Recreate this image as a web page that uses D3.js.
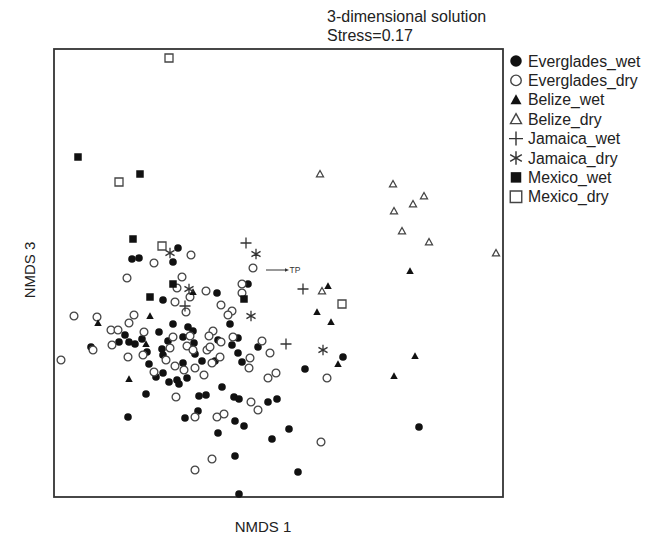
<!DOCTYPE html>
<html>
<head>
<meta charset="utf-8">
<script src="https://cdn.jsdelivr.net/npm/d3@7"></script>
<style>
  body { margin: 0; background: #fff; }
  svg { display: block; font-family: "Liberation Sans", Arial, sans-serif; }
</style>
</head>
<body>
<div id="chart"></div>
<script>
// NMDS scores (NMDS 1, NMDS 3)
var evergladesWet = [
  [-1.00, 0.25], [-1.46, 0.14], [-1.39, 0.15], [-1.05, 0.11], [-1.15, -0.27], [-0.30, -0.11],
  [-0.61, -0.20], [-1.05, -0.51], [-0.90, -0.54], [-0.85, -0.58], [-1.19, -0.59], [-1.53, -0.62],
  [-1.36, -0.66], [-1.59, -0.69], [-1.49, -0.69], [-1.43, -0.71], [-1.10, -0.68], [-0.95, -0.64],
  [-1.16, -0.76], [-1.87, -0.74], [-1.31, -0.79], [-1.15, -0.82], [-0.84, -0.70], [-0.83, -0.81],
  [-1.29, -0.91], [-1.22, -1.04], [-1.15, -1.00], [-0.95, -0.90], [-0.91, -1.05], [-1.09, -1.09],
  [-1.01, -1.07], [-0.99, -1.11], [-0.48, -0.51], [-0.40, -0.65], [-0.60, -0.67], [-0.46, -0.72],
  [-0.20, -0.74], [-0.40, -0.80], [-0.76, -0.88], [-0.63, -0.88], [-0.36, -0.89], [-0.56, -1.14],
  [0.65, -0.84], [0.27, -0.96], [-0.01, -1.26], [-0.10, -1.29], [1.41, -1.54], [0.11, -1.56],
  [-0.06, -1.66], [0.20, -1.99], [-1.50, -1.44], [-1.32, -1.21], [-0.79, -1.23], [-0.72, -1.22],
  [-0.80, -1.38], [-0.93, -1.45], [-0.60, -1.60], [-0.43, -1.48], [-0.34, -1.53], [-0.44, -1.24],
  [-0.39, -1.26], [-0.43, -1.83], [-0.39, -2.21]
];
var evergladesDry = [
  [-0.87, 0.18], [-1.24, 0.10], [-1.51, -0.05], [-0.96, -0.04], [-1.01, -0.15], [-0.88, -0.24],
  [-1.03, -0.29], [-0.92, -0.39], [-2.04, -0.43], [-1.81, -0.44], [-1.44, -0.42], [-1.49, -0.50],
  [-1.67, -0.57], [-1.60, -0.57], [-1.34, -0.59], [-1.05, -0.64], [-0.88, -0.63], [-1.66, -0.72],
  [-1.08, -0.75], [-1.85, -0.77], [-0.91, -0.73], [-0.85, -0.77], [-2.17, -0.87], [-1.50, -0.84],
  [-1.35, -0.82], [-1.12, -0.87], [-1.03, -0.93], [-0.83, -0.95], [-0.94, -0.97], [-1.24, -0.99],
  [-0.36, -0.11], [-0.36, -0.20], [-0.72, -0.18], [-0.57, -0.32], [-0.46, -0.38], [-0.50, -0.42],
  [-0.25, 0.05], [-0.65, -0.58], [-0.69, -0.63], [-0.45, -0.64], [-0.57, -0.69], [-0.71, -0.77],
  [-0.68, -0.74], [-0.16, -0.68], [-0.08, -0.80], [-0.58, -0.84], [-0.66, -0.90], [-0.28, -0.85],
  [-0.29, -0.95], [-0.74, -1.02], [-0.02, -1.00], [-0.10, -1.05], [0.49, -1.05], [0.43, -1.69],
  [-1.02, -1.24], [-0.83, -1.44], [-0.61, -1.44], [-0.54, -1.41], [-0.27, -1.29], [-0.20, -1.37],
  [-0.66, -1.86], [-0.83, -1.97]
];
var belizeWet = [
  [-1.80, -0.50], [-1.28, -0.43], [-1.32, -0.71], [-1.49, -1.06], [-0.85, -0.19], [0.50, -0.13],
  [0.39, -0.39], [0.53, -0.49], [0.60, -0.91], [1.16, -1.03], [1.32, 0.02], [1.37, -0.83]
];
var belizeDry = [
  [0.42, 0.99], [1.15, 0.89], [1.46, 0.77], [1.35, 0.69], [1.16, 0.62], [1.24, 0.42],
  [1.51, 0.31], [2.18, 0.20], [0.44, -0.18]
];
var jamaicaWet = [[-0.32, 0.30], [-0.93, -0.33], [0.25, -0.16], [0.08, -0.71]];
var jamaicaDry = [[-0.22, 0.19], [-1.08, 0.20], [-0.89, -0.16], [-0.27, -0.43], [0.45, -0.77]];
var mexicoWet = [[-2.00, 1.16], [-1.38, 0.99], [-1.45, 0.34], [-1.05, -0.11], [-1.28, -0.24], [-0.34, -0.26]];
var mexicoDry = [[-1.09, 2.15], [-1.59, 0.91], [-1.16, 0.27], [0.64, -0.31]];

var seriesNames = ["Everglades_wet", "Everglades_dry", "Belize_wet", "Belize_dry",
  "Jamaica_wet", "Jamaica_dry", "Mexico_wet", "Mexico_dry"];
var seriesData = [evergladesWet, evergladesDry, belizeWet, belizeDry,
  jamaicaWet, jamaicaDry, mexicoWet, mexicoDry];
var titleLines = ["3-dimensional solution", "Stress=0.17"];
var tpArrow = [[-0.12, 0.03], [0.11, 0.03]];

var width = 647,
  height = 538,
  margin = { top: 49, right: 144, bottom: 41, left: 54 };

var x = d3.scaleLinear().domain([-2.24, 2.25]).range([margin.left, width - margin.right]),
  y = d3.scaleLinear().domain([-2.24, 2.24]).range([height - margin.bottom, margin.top]);

// marker shapes, s = overall size in px
function markerPath(kind, s) {
  var h = s / 2;
  if (kind === "circle") {
    return d3.symbol(d3.symbolCircle, Math.PI * h * h)();
  }
  if (kind === "triangle") {
    return "M0," + (-h) + "L" + h + "," + (h * 0.8) + "L" + (-h) + "," + (h * 0.8) + "Z";
  }
  if (kind === "square") {
    return "M" + (-h) + "," + (-h) + "H" + h + "V" + h + "H" + (-h) + "Z";
  }
  if (kind === "plus") {
    return "M" + (-h) + ",0H" + h + "M0," + (-h) + "V" + h;
  }
  // asterisk
  var p = "";
  [90, 30, -30].forEach(function(a) {
    var r = a * Math.PI / 180, dx = h * Math.cos(r), dy = h * Math.sin(r);
    p += "M" + (-dx) + "," + (-dy) + "L" + dx + "," + dy;
  });
  return p;
}

var styles = [
  { kind: "circle", fill: "#111", stroke: "none", size: 7.6, lsize: 11.5 },
  { kind: "circle", fill: "#fff", stroke: "#444", size: 7.8, lsize: 10.5 },
  { kind: "triangle", fill: "#111", stroke: "none", size: 7.5, lsize: 11 },
  { kind: "triangle", fill: "#fff", stroke: "#444", size: 7, lsize: 11 },
  { kind: "plus", fill: "none", stroke: "#333", size: 11, lsize: 14 },
  { kind: "asterisk", fill: "none", stroke: "#333", size: 10.5, lsize: 13.5 },
  { kind: "square", fill: "#111", stroke: "none", size: 7.5, lsize: 10.5 },
  { kind: "square", fill: "#fff", stroke: "#444", size: 8, lsize: 11.5 }
];

var svg = d3.select("#chart").append("svg")
  .attr("width", width)
  .attr("height", height);

// frame
svg.append("rect")
  .attr("x", x.range()[0])
  .attr("y", y.range()[1])
  .attr("width", x.range()[1] - x.range()[0])
  .attr("height", y.range()[0] - y.range()[1])
  .attr("fill", "none")
  .attr("stroke", "#333")
  .attr("stroke-width", 1.8);

// points
seriesData.forEach(function(pts, i) {
  var st = styles[i];
  svg.append("g")
    .attr("class", "series")
    .selectAll("path")
    .data(pts)
    .enter().append("path")
    .attr("transform", function(d) { return "translate(" + x(d[0]) + "," + y(d[1]) + ")"; })
    .attr("d", markerPath(st.kind, st.size))
    .attr("fill", st.fill)
    .attr("stroke", st.stroke)
    .attr("stroke-width", st.stroke === "none" ? 0 : 1.3);
});

// TP arrow
var ax0 = x(tpArrow[0][0]), ax1 = x(tpArrow[1][0]), ay = y(tpArrow[0][1]);
svg.append("line")
  .attr("x1", ax0).attr("x2", ax1 - 3)
  .attr("y1", ay).attr("y2", ay)
  .attr("stroke", "#333").attr("stroke-width", 1);
svg.append("path")
  .attr("d", "M" + ax1 + "," + ay + "l-4,-1.8v3.6Z")
  .attr("fill", "#333");
svg.append("text")
  .attr("x", ax1 + 0.5).attr("y", ay + 3)
  .attr("font-size", 8.5)
  .attr("fill", "#333")
  .text("TP");

// title
svg.append("g").selectAll("text")
  .data(titleLines)
  .enter().append("text")
  .attr("x", 327)
  .attr("y", function(d, i) { return 22 + i * 19; })
  .attr("font-size", 16)
  .attr("fill", "#222")
  .text(function(d) { return d; });

// axis labels
svg.append("text")
  .attr("x", 263).attr("y", 532)
  .attr("text-anchor", "middle")
  .attr("font-size", 15)
  .attr("fill", "#222")
  .text("NMDS 1");
svg.append("text")
  .attr("transform", "translate(35,270) rotate(-90)")
  .attr("text-anchor", "middle")
  .attr("font-size", 15)
  .attr("fill", "#222")
  .text("NMDS 3");

// legend
var legend = svg.append("g").attr("class", "legend");
var keys = legend.selectAll(".key")
  .data(seriesNames)
  .enter().append("g")
  .attr("class", "key")
  .attr("transform", function(d, i) { return "translate(516," + (61 + i * 19.4) + ")"; });

keys.append("path")
  .attr("d", function(d, i) { return markerPath(styles[i].kind, styles[i].lsize); })
  .attr("fill", function(d, i) { return styles[i].fill; })
  .attr("stroke", function(d, i) { return styles[i].stroke; })
  .attr("stroke-width", function(d, i) { return styles[i].stroke === "none" ? 0 : 1.4; });

keys.append("text")
  .attr("x", 12)
  .attr("y", 5.5)
  .attr("font-size", 15.8)
  .attr("fill", "#222")
  .text(function(d) { return d; });
</script>
</body>
</html>
